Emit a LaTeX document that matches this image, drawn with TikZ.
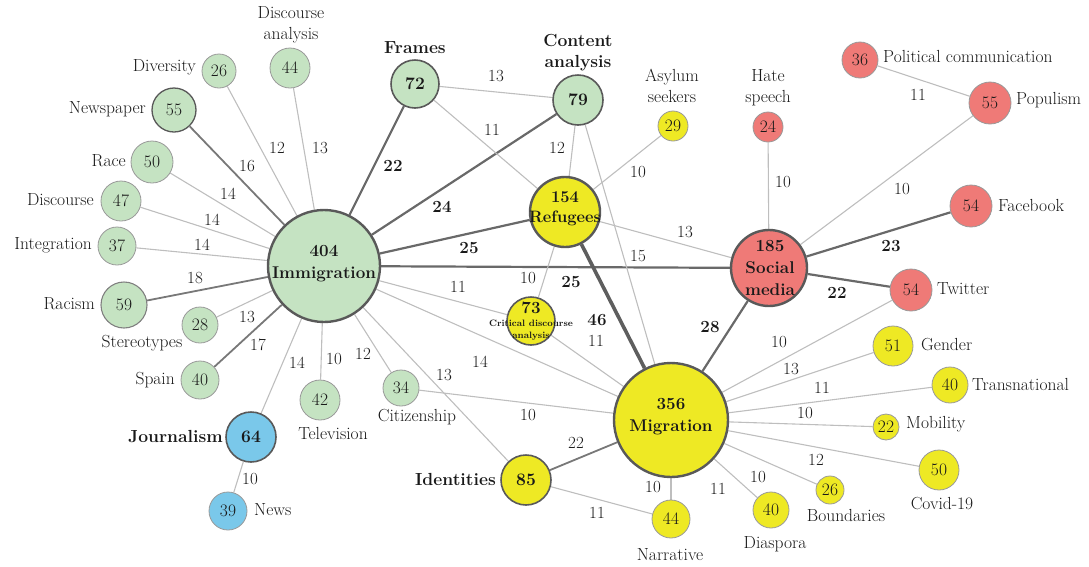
\documentclass[tikz,border=0pt]{standalone}
\usetikzlibrary{backgrounds}
\definecolor{ngreen}{RGB}{197,227,194}
\definecolor{nyellow}{RGB}{238,233,36}
\definecolor{nred}{RGB}{239,122,119}
\definecolor{nblue}{RGB}{122,200,234}
\definecolor{edgelight}{RGB}{190,190,190}
\definecolor{edgemid}{RGB}{120,120,120}
\definecolor{edgedark}{RGB}{105,105,105}
\definecolor{txt}{RGB}{25,25,25}
\begin{document}
\begin{tikzpicture}[x=1pt,y=-1pt,
  every node/.style={font=\rmfamily\fontsize{17.5}{21}\selectfont, inner sep=0pt, text=txt},
  nd/.style={circle, draw=black!40, line width=0.8pt, minimum size=#1},
  ndm/.style={circle, draw=black!65, line width=1.6pt, minimum size=#1},
  hub/.style={circle, draw=black!65, line width=2.4pt, minimum size=#1},
  gfill/.style={fill=ngreen}, yfill/.style={fill=nyellow},
  rfill/.style={fill=nred}, bfill/.style={fill=nblue},
  bt/.style={font=\rmfamily\fontsize{17}{22}\selectfont\bfseries, align=center},
  lab/.style={align=center},
  elab/.style={font=\rmfamily\fontsize{17}{20}\selectfont},
  elabb/.style={font=\rmfamily\fontsize{17}{20}\selectfont\bfseries},
  el/.style={draw=edgelight, line width=1.1pt},
  em/.style={draw=edgemid, line width=1.8pt},
  ed/.style={draw=edgedark, line width=2.2pt},
  ex/.style={draw=edgedark!90!black, line width=3.6pt}]
\useasboundingbox (0,0) rectangle (1089,566);

% ---------- nodes ----------
\node[hub=112, gfill] (imm) at (324,266) {};
\node[bt] (immT) at (324,264) {404\\Immigration};
\node[hub=114, yfill] (mig) at (671,420) {};
\node[bt] (migT) at (671,417) {356\\Migration};
\node[hub=70, yfill] (ref) at (565,212) {};
\node[bt, font=\rmfamily\fontsize{16.5}{20}\selectfont\bfseries] (refT) at (565,209) {154\\Refugees};
\node[hub=76, rfill] (soc) at (769,268) {};
\node[bt] (socT) at (770,268) {185\\Social\\media};
\node[ndm=48, yfill] (cda) at (531,321) {};
\node[bt] (cdaN) at (531,308) {73};
\node[font=\rmfamily\fontsize{9.3}{12}\selectfont\bfseries, align=center] (cdaT) at (531,330) {Critical discourse\\analysis};

\node[ndm=48, gfill, font=\rmfamily\fontsize{17.5}{22}\selectfont\bfseries] (fra) at (415,84) {72};
\node[ndm=50, gfill, font=\rmfamily\fontsize{17.5}{22}\selectfont\bfseries] (con) at (578,100) {79};
\node[nd=30, yfill] (asy) at (673,126) {29};
\node[nd=30, rfill] (hat) at (768,127) {24};
\node[nd=36, rfill] (pol) at (860,60) {36};
\node[nd=42, rfill] (pop) at (990,103) {55};
\node[nd=42, rfill] (fac) at (971,206) {54};
\node[nd=42, rfill] (twi) at (911,290) {54};
\node[nd=40, yfill] (gen) at (893,346) {51};
\node[nd=36, yfill] (tra) at (950,385) {40};
\node[nd=26, yfill] (mob) at (886,427) {22};
\node[nd=40, yfill] (cov) at (939,470) {50};
\node[nd=28, yfill] (bou) at (830,490) {26};
\node[nd=36, yfill] (dia) at (771,510) {40};
\node[nd=38, yfill] (nar) at (671,519) {44};
\node[ndm=50, yfill, font=\rmfamily\fontsize{17.5}{22}\selectfont\bfseries] (ide) at (526,480) {85};
\node[nd=36, gfill] (cit) at (401,388) {34};
\node[nd=40, gfill] (tel) at (320,400) {42};
\node[ndm=50, bfill, font=\rmfamily\fontsize{17.5}{22}\selectfont\bfseries] (jou) at (251,437) {64};
\node[nd=38, bfill] (new) at (228,511) {39};
\node[nd=38, gfill] (spa) at (200,380) {40};
\node[nd=36, gfill] (ste) at (200,325) {28};
\node[nd=46, gfill, draw=black!50, line width=1.1pt] (rac) at (124,305) {59};
\node[nd=38, gfill] (int) at (117,246) {37};
\node[nd=40, gfill] (dis) at (121,201) {47};
\node[nd=42, gfill] (rce) at (152,162) {50};
\node[ndm=44, gfill, line width=1.3pt] (nsp) at (174,110) {55};
\node[nd=34, gfill] (div) at (219,71) {26};
\node[nd=40, gfill] (dan) at (290,68) {44};

% ---------- text labels ----------
\node[lab] (danL) at (291,25) {Discourse\\analysis};
\node[anchor=east] (divL) at (196,67) {Diversity};
\node[anchor=east] (nspL) at (146,109) {Newspaper};
\node[anchor=east] (rceL) at (126,161) {Race};
\node[anchor=east] (disL) at (94,200) {Discourse};
\node[anchor=east] (intL) at (92,245) {Integration};
\node[anchor=east] (racL) at (95,304) {Racism};
\node (steL) at (142,343) {Stereotypes};
\node[anchor=east] (spaL) at (175,380) {Spain};
\node[anchor=east, font=\rmfamily\fontsize{17.5}{22}\selectfont\bfseries] (jouL) at (223,437) {Journalism};
\node[anchor=west] (newL) at (254,510) {News};
\node (telL) at (333,433) {Television};
\node (citL) at (417,417) {Citizenship};
\node[anchor=east, font=\rmfamily\fontsize{17.5}{22}\selectfont\bfseries] (ideL) at (496,479) {Identities};
\node (narL) at (670,555) {Narrative};
\node (diaL) at (775,544) {Diaspora};
\node (bouL) at (846,515) {Boundaries};
\node (covL) at (942,504) {Covid-19};
\node[anchor=west] (mobL) at (906,424) {Mobility};
\node[anchor=west] (traL) at (972,384) {Transnational};
\node[anchor=west] (genL) at (921,345) {Gender};
\node[anchor=west] (twiL) at (937,289) {Twitter};
\node[anchor=west] (facL) at (998,205) {Facebook};
\node[anchor=west] (popL) at (1016,100) {Populism};
\node[anchor=west] (polL) at (883,56) {Political communication};
\node[lab] (hatL) at (768,88) {Hate\\speech};
\node[lab] (asyL) at (672,86) {Asylum\\seekers};
\node[bt, font=\rmfamily\fontsize{17.5}{21}\selectfont\bfseries] (conL) at (578,53) {Content\\analysis};
\node[bt, font=\rmfamily\fontsize{17.5}{21}\selectfont\bfseries] (fraL) at (415,48) {Frames};

% ---------- edges ----------
\begin{scope}[on background layer]
\draw[el] (imm) -- (div);
\draw[el] (imm) -- (dan);
\draw[em] (imm) -- (nsp);
\draw[el] (imm) -- (rce);
\draw[el] (imm) -- (dis);
\draw[el] (imm) -- (int);
\draw[em] (imm) -- (rac);
\draw[el] (imm) -- (ste);
\draw[em] (imm) -- (spa);
\draw[el] (imm) -- (jou);
\draw[el] (imm) -- (tel);
\draw[el] (imm) -- (cit);
\draw[el] (imm) -- (ide);
\draw[el] (imm) -- (mig);
\draw[el] (imm) -- (cda);
\draw[ed] (imm) -- (fra);
\draw[ed] (imm) -- (con);
\draw[ed] (imm) -- (ref);
\draw[ed] (imm) -- (soc);
\draw[el] (jou) -- (new);
\draw[el] (fra) -- (con);
\draw[el] (fra) -- (ref);
\draw[el] (con) -- (ref);
\draw[el] (con) -- (mig);
\draw[el] (asy) -- (ref);
\draw[el] (ref) -- (soc);
\draw[el] (ref) -- (cda);
\draw[ex] (ref) -- (mig);
\draw[el] (cda) -- (mig);
\draw[el] (hat) -- (soc);
\draw[el] (pol) -- (pop);
\draw[el] (pop) -- (soc);
\draw[ed] (soc) -- (fac);
\draw[ed] (soc) -- (twi);
\draw[ed] (soc) -- (mig);
\draw[el] (twi) -- (mig);
\draw[el] (gen) -- (mig);
\draw[el] (tra) -- (mig);
\draw[el] (mob) -- (mig);
\draw[el] (cov) -- (mig);
\draw[el] (bou) -- (mig);
\draw[el] (dia) -- (mig);
\draw[el] (nar) -- (mig);
\draw[el] (cit) -- (mig);
\draw[em] (ide) -- (mig);
\draw[el] (ide) -- (nar);
\end{scope}

% ---------- edge labels ----------
\node[elab] (l1) at (277,148) {12};
\node[elab] (l2) at (320,148) {13};
\node[elab] (l3) at (247,166) {16};
\node[elab] (l4) at (228,194) {14};
\node[elab] (l5) at (212,220) {14};
\node[elab] (l6) at (202,245) {14};
\node[elab] (l7) at (195,278) {18};
\node[elab] (l8) at (247,317) {13};
\node[elab] (l9) at (258,345) {17};
\node[elab] (l10) at (297,363) {14};
\node[elab] (l11) at (334,359) {10};
\node[elab] (l12) at (363,354) {12};
\node[elab] (l13) at (250,479) {10};
\node[elab] (l14) at (458,287) {11};
\node[elab] (l15) at (480,362) {14};
\node[elab] (l16) at (444,375) {13};
\node[elab] (l17) at (528,415) {10};
\node[elab] (l18) at (576,443) {22};
\node[elab] (l19) at (597,513) {11};
\node[elab] (l20) at (596,341) {11};
\node[elab] (l21) at (653,487) {10};
\node[elab] (l22) at (496,76) {13};
\node[elab] (l23) at (492,130) {11};
\node[elab] (l24) at (557,148) {12};
\node[elab] (l25) at (638,172) {10};
\node[elab] (l26) at (685,232) {13};
\node[elab] (l27) at (638,256) {15};
\node[elab] (l28) at (528,278) {10};
\node[elab] (l29) at (783,182) {10};
\node[elab] (l30) at (918,95) {11};
\node[elab] (l31) at (902,189) {10};
\node[elab] (l32) at (779,342) {10};
\node[elab] (l33) at (791,369) {13};
\node[elab] (l34) at (822,388) {11};
\node[elab] (l35) at (805,413) {10};
\node[elab] (l36) at (816,460) {12};
\node[elab] (l37) at (758,477) {10};
\node[elab] (l38) at (718,489) {11};
\node[elabb] (b1) at (393,166) {22};
\node[elabb] (b2) at (442,207) {24};
\node[elabb] (b3) at (469,248) {25};
\node[elabb] (b4) at (571,282) {25};
\node[elabb] (b5) at (597,320) {46};
\node[elabb] (b6) at (710,327) {28};
\node[elabb] (b7) at (891,246) {23};
\node[elabb] (b8) at (837,293) {22};
\end{tikzpicture}
\end{document}
